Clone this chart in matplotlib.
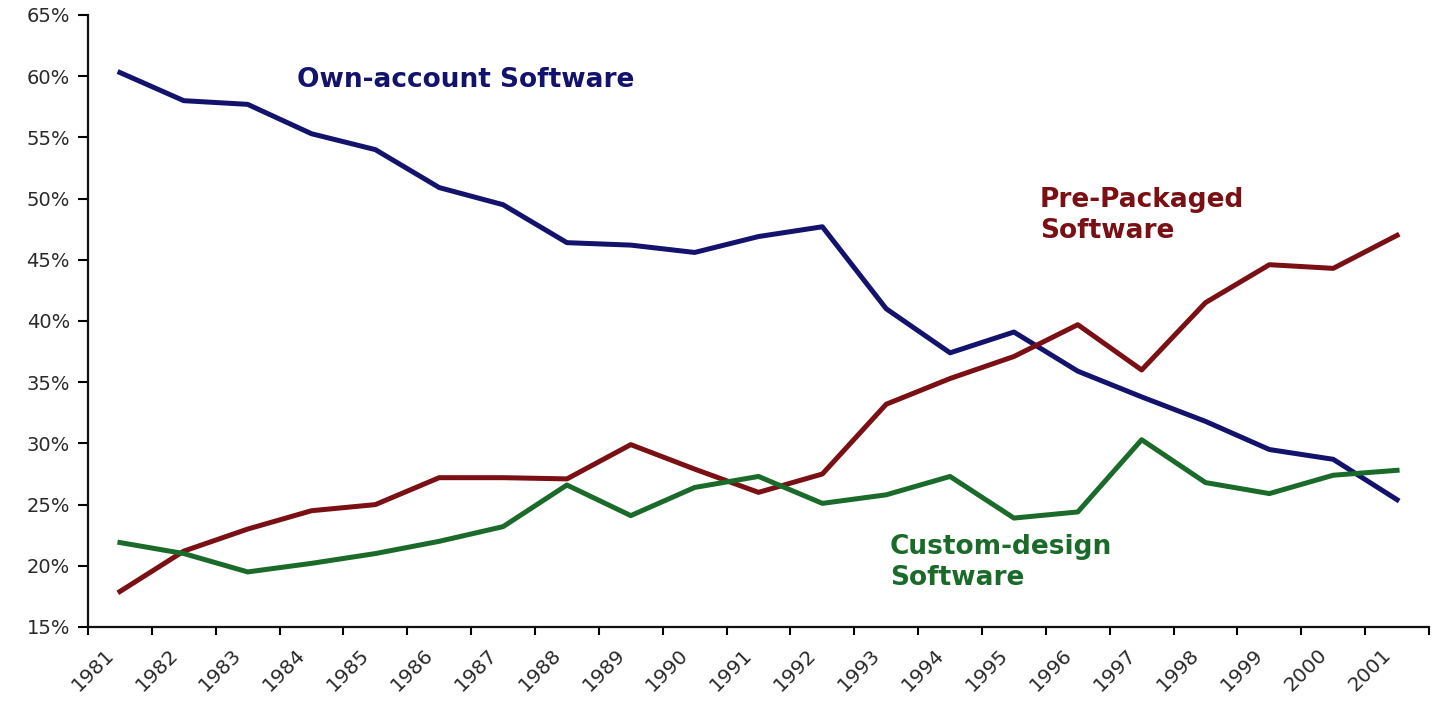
import numpy as np
import matplotlib
matplotlib.use("Agg")
from matplotlib import pyplot as plt
from matplotlib.transforms import ScaledTranslation

# Anteil der Software-Investitionen (%)
years = [str(y) for y in range(1981, 2002)]
own_account = [60.3, 58.0, 57.7, 55.3, 54.0, 50.9, 49.5, 46.4, 46.2, 45.6, 46.9,
               47.7, 41.0, 37.4, 39.1, 35.9, 33.8, 31.8, 29.5, 28.7, 25.4]
pre_packaged = [17.9, 21.2, 23.0, 24.5, 25.0, 27.2, 27.2, 27.1, 29.9, 27.9, 26.0,
                27.5, 33.2, 35.3, 37.1, 39.7, 36.0, 41.5, 44.6, 44.3, 47.0]
custom_design = [21.9, 21.0, 19.5, 20.2, 21.0, 22.0, 23.2, 26.6, 24.1, 26.4, 27.3,
                 25.1, 25.8, 27.3, 23.9, 24.4, 30.3, 26.8, 25.9, 27.4, 27.8]
y_ticks = [15, 20, 25, 30, 35, 40, 45, 50, 55, 60, 65]

navy = "#13136e"
red = "#7a0f14"
green = "#1a6b2a"

fig = plt.figure(figsize=(14.35, 7.02), dpi=100)
ax = fig.add_axes([88/1435, 75/702, (1429-88)/1435, (627-15)/702])

x = np.arange(len(years))
ax.plot(x, own_account, color=navy, lw=3.6, solid_joinstyle="round")
ax.plot(x, pre_packaged, color=red, lw=3.6, solid_joinstyle="round")
ax.plot(x, custom_design, color=green, lw=3.6, solid_joinstyle="round")

ax.set_xlim(-0.5, len(years) - 0.5)
ax.set_ylim(15, 65)

# Teilstriche zwischen den Kategorien, Beschriftung in der Mitte
ax.set_xticks(np.arange(len(years) + 1) - 0.5, minor=True)
ax.set_xticks(x)
ax.set_xticklabels(years, rotation=45, ha="right", va="center",
                   rotation_mode="anchor", fontsize=14.5, color="#2a2a2a")
ax.tick_params(axis="x", which="major", length=0, pad=18)
ax.tick_params(axis="x", which="minor", length=6, width=1.5, direction="out")
off = ScaledTranslation(-9/100, 0, fig.dpi_scale_trans)
for lab in ax.get_xticklabels():
    lab.set_transform(lab.get_transform() + off)

ax.set_yticks(y_ticks)
ax.set_yticklabels([f"{v}%" for v in y_ticks], fontsize=14, color="#2a2a2a")
ax.tick_params(axis="y", length=7, width=1.5, direction="out", pad=6)

for s in ["top", "right"]:
    ax.spines[s].set_visible(False)
for s in ["left", "bottom"]:
    ax.spines[s].set_linewidth(1.6)
    ax.spines[s].set_color("#111111")

ax.text(2.77, 59.7, "Own-account Software", color=navy, fontsize=19,
        fontweight="bold", ha="left", va="center")
ax.text(14.41, 48.6, "Pre-Packaged\nSoftware", color=red, fontsize=19,
        fontweight="bold", ha="left", va="center", linespacing=1.25)
ax.text(12.06, 20.3, "Custom-design\nSoftware", color=green, fontsize=19,
        fontweight="bold", ha="left", va="center", linespacing=1.25)

fig.savefig("out.png", dpi=100)
